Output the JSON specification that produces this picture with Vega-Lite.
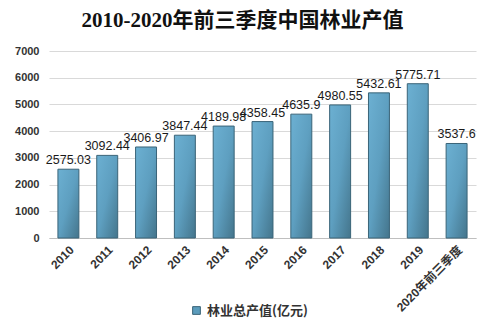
{
  "$schema": "https://vega.github.io/schema/vega-lite/v6.json",
  "width": 427,
  "height": 187,
  "autosize": {"type": "none"},
  "padding": {"left": 49, "top": 51, "right": 12, "bottom": 91},
  "background": "white",
  "title": {
    "text": "2010-2020年前三季度中国林业产值",
    "font": "Liberation Serif, Noto Sans CJK SC",
    "fontSize": 21,
    "fontWeight": "bold",
    "color": "#111111",
    "frame": "group",
    "anchor": "middle",
    "dx": -20,
    "offset": 14
  },
  "data": {
    "values": [
      {"year": "2010", "value": 2575.03, "series": "林业总产值(亿元)"},
      {"year": "2011", "value": 3092.44, "series": "林业总产值(亿元)"},
      {"year": "2012", "value": 3406.97, "series": "林业总产值(亿元)"},
      {"year": "2013", "value": 3847.44, "series": "林业总产值(亿元)"},
      {"year": "2014", "value": 4189.98, "series": "林业总产值(亿元)"},
      {"year": "2015", "value": 4358.45, "series": "林业总产值(亿元)"},
      {"year": "2016", "value": 4635.9, "series": "林业总产值(亿元)"},
      {"year": "2017", "value": 4980.55, "series": "林业总产值(亿元)"},
      {"year": "2018", "value": 5432.61, "series": "林业总产值(亿元)"},
      {"year": "2019", "value": 5775.71, "series": "林业总产值(亿元)"},
      {"year": "2020年前三季度", "value": 3537.6, "series": "林业总产值(亿元)"}
    ]
  },
  "encoding": {
    "x": {
      "field": "year",
      "type": "nominal",
      "sort": null,
      "scale": {"paddingInner": 0.46, "paddingOuter": 0.23},
      "axis": {
        "title": null,
        "labelAngle": -45,
        "labelFont": "Liberation Sans, Noto Sans CJK SC",
        "labelFontSize": 12,
        "labelFontWeight": "bold",
        "labelColor": "#333333",
        "labelPadding": 6,
        "ticks": false,
        "domainColor": "#bfbfbf",
        "grid": false
      }
    },
    "y": {
      "field": "value",
      "type": "quantitative",
      "scale": {"domain": [0, 7000]},
      "axis": {
        "title": null,
        "values": [0, 1000, 2000, 3000, 4000, 5000, 6000, 7000],
        "format": "d",
        "labelFont": "Liberation Sans",
        "labelFontSize": 11,
        "labelFontWeight": "bold",
        "labelColor": "#333333",
        "labelPadding": 10,
        "ticks": false,
        "domain": false,
        "gridColor": "#d9d9d9"
      }
    }
  },
  "layer": [
    {
      "mark": {
        "type": "bar",
        "fill": {
          "gradient": "linear",
          "x1": 0, "y1": 0, "x2": 1, "y2": 1,
          "stops": [
            {"offset": 0, "color": "#6cb0d2"},
            {"offset": 0.5, "color": "#5e9fc0"},
            {"offset": 1, "color": "#44758c"}
          ]
        },
        "stroke": "#3a6478",
        "strokeWidth": 1
      },
      "encoding": {
        "color": {
          "field": "series",
          "type": "nominal",
          "scale": {"range": ["#5b9cbc"]},
          "legend": {
            "title": null,
            "orient": "none",
            "legendX": 141,
            "legendY": 253,
            "symbolType": "square",
            "symbolSize": 60,
            "symbolStrokeColor": "#3a6478",
            "symbolStrokeWidth": 1,
            "labelFont": "Noto Sans CJK SC",
            "labelFontSize": 13,
            "labelFontWeight": "bold",
            "labelColor": "#333333"
          }
        }
      }
    },
    {
      "mark": {
        "type": "text",
        "dy": -9,
        "font": "Liberation Sans",
        "fontSize": 12.5,
        "color": "#1a1a1a"
      },
      "encoding": {
        "text": {"field": "value", "type": "nominal"}
      }
    }
  ],
  "config": {
    "view": {"stroke": null}
  }
}
